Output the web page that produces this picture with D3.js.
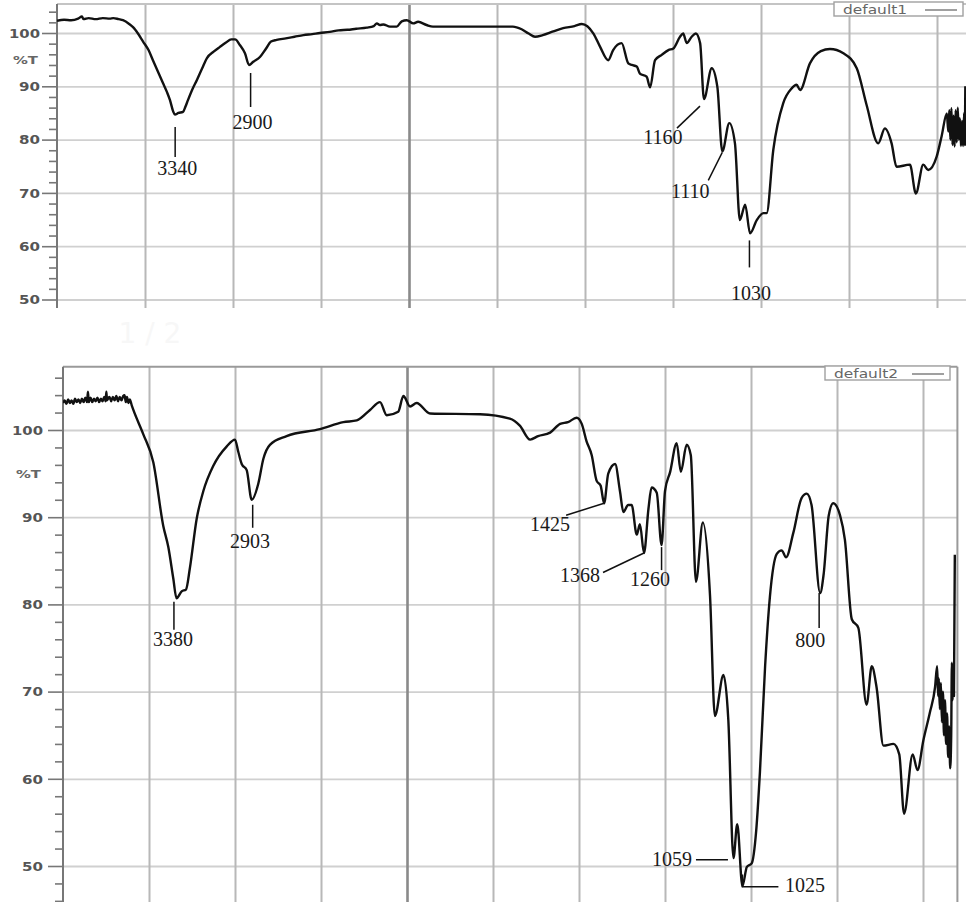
<!DOCTYPE html>
<html>
<head>
<meta charset="utf-8">
<script src="https://cdnjs.cloudflare.com/ajax/libs/d3/7.8.5/d3.min.js"></script>
<style>
  body { margin: 0; background: #fff; }
  svg { display: block; }
</style>
</head>
<body>
<svg id="chart" width="966" height="902"></svg>
<script>
// top spectrum, [wavenumber (cm-1), %T]
var spectrum1 = [
  [4000, 102.3], [3960, 102.5], [3920, 102.4], [3880, 102.7], [3858, 103.1], [3850, 102.6],
  [3820, 102.8], [3780, 102.6], [3740, 102.8], [3700, 102.7], [3680, 102.8], [3650, 102.6],
  [3625, 102.4], [3590, 101.7], [3568, 101.1], [3540, 99.9], [3511, 98.4], [3480, 96.8],
  [3455, 94.9], [3430, 93.0], [3398, 90.6], [3375, 88.9], [3358, 87.4], [3340, 85.3],
  [3330, 84.7], [3310, 85.0], [3284, 85.2], [3270, 86.2], [3256, 87.4], [3230, 89.5],
  [3205, 91.2], [3175, 93.4], [3148, 95.3], [3110, 96.5], [3074, 97.4], [3040, 98.2],
  [3010, 98.8], [2988, 98.8], [2960, 97.7], [2932, 96.2], [2909, 94.0], [2885, 94.6],
  [2847, 95.5], [2812, 97.1], [2784, 98.4], [2752, 98.7], [2700, 99.0], [2650, 99.3],
  [2600, 99.6], [2550, 99.8], [2506, 100.0], [2450, 100.2], [2400, 100.5], [2350, 100.6],
  [2300, 100.8], [2240, 101.0], [2200, 101.3], [2183, 101.8], [2165, 101.5], [2146, 101.6],
  [2108, 101.2], [2070, 101.2], [2041, 102.2], [2013, 102.4], [1988, 101.8], [1974, 102.1],
  [1950, 101.5], [1932, 101.2], [1900, 101.2], [1798, 101.2], [1705, 101.2], [1680, 100.7],
  [1660, 99.9], [1642, 99.3], [1620, 99.6], [1590, 100.3], [1562, 100.9], [1530, 101.3],
  [1509, 101.7], [1476, 99.9], [1457, 97.4], [1434, 94.9], [1420, 96.8], [1396, 98.1],
  [1377, 94.3], [1367, 94.0], [1353, 93.7], [1344, 92.4], [1325, 91.8], [1315, 89.8],
  [1301, 94.9], [1282, 95.9], [1263, 96.8], [1249, 97.1], [1230, 99.3], [1221, 99.9],
  [1211, 98.1], [1197, 99.3], [1185, 99.9], [1173, 98.1], [1162, 87.6], [1140, 93.4],
  [1124, 89.9], [1110, 77.8], [1090, 83.1], [1074, 79.3], [1060, 64.9], [1045, 67.8],
  [1031, 62.4], [1012, 64.9], [993, 66.2], [984, 66.2], [965, 78.1], [937, 86.8],
  [913, 89.6], [899, 90.3], [889, 89.3], [861, 94.3], [830, 96.6], [804, 97.0],
  [766, 96.2], [728, 93.4], [700, 86.5], [667, 79.3], [648, 82.1], [629, 79.3],
  [615, 74.9], [577, 75.3], [560, 69.9], [539, 75.3], [525, 74.3], [501, 76.8],
  [487, 80.6], [472, 84.9], [468, 81.5], [465, 85.5], [462, 80.0], [459, 85.9],
  [456, 79.0], [453, 84.5], [450, 78.7], [447, 85.5], [444, 79.5], [441, 86.0],
  [438, 80.0], [435, 84.0], [432, 78.8], [429, 83.5], [426, 78.8], [423, 85.0],
  [421, 79.0], [419.5, 90.0]
];

// bottom spectrum
var spectrum2 = [
  [4000, 103.1], [3990, 103.4], [3980, 103.0], [3970, 103.5], [3960, 103.1], [3950, 103.4],
  [3940, 103.0], [3930, 103.6], [3920, 103.2], [3910, 103.5], [3900, 103.1], [3890, 103.6],
  [3880, 103.2], [3870, 103.7], [3860, 103.2], [3855, 104.4], [3850, 103.2], [3840, 103.7],
  [3830, 103.2], [3820, 103.6], [3810, 103.3], [3800, 103.7], [3790, 103.2], [3780, 103.6],
  [3770, 103.3], [3760, 103.8], [3752, 103.3], [3748, 104.4], [3744, 103.4], [3730, 103.8],
  [3720, 103.3], [3710, 103.8], [3700, 103.4], [3690, 103.9], [3680, 103.3], [3670, 103.8],
  [3660, 103.4], [3650, 103.9], [3642, 104.0], [3635, 103.2], [3628, 103.8], [3620, 103.1],
  [3612, 103.5], [3600, 102.8],
  [3591, 102.3], [3533, 99.5], [3475, 96.3], [3417, 89.0], [3388, 86.6], [3359, 83.0],
  [3340, 80.7], [3310, 81.5], [3285, 81.7], [3262, 84.2], [3223, 89.8], [3184, 93.0],
  [3126, 95.9], [3049, 98.1], [3000, 98.9], [2981, 97.5], [2961, 96.1], [2932, 95.4],
  [2903, 92.0], [2865, 93.8], [2835, 96.7], [2797, 98.3], [2700, 99.3], [2506, 100.1],
  [2370, 100.9], [2292, 101.1], [2215, 102.3], [2157, 103.2], [2118, 101.7], [2051, 102.1],
  [2021, 103.9], [1991, 102.7], [1972, 103.1], [1933, 101.9], [1788, 101.8], [1701, 101.3],
  [1672, 100.5], [1642, 98.9], [1619, 99.3], [1584, 99.7], [1555, 100.7], [1532, 100.9],
  [1507, 101.4], [1492, 100.7], [1478, 98.7], [1463, 97.1], [1449, 94.2], [1437, 93.6],
  [1427, 91.6], [1415, 95.0], [1395, 96.1], [1381, 93.0], [1371, 90.6], [1357, 91.4],
  [1347, 91.4], [1332, 88.0], [1323, 89.2], [1311, 85.9], [1298, 91.0], [1289, 93.4],
  [1274, 92.8], [1260, 86.8], [1250, 93.0], [1235, 95.2], [1216, 98.5], [1204, 95.2],
  [1187, 98.3], [1175, 97.1], [1160, 82.6], [1140, 89.4], [1119, 80.9], [1105, 67.2],
  [1080, 71.9], [1066, 66.8], [1051, 50.9], [1040, 54.8], [1025, 47.7], [1012, 49.9],
  [998, 50.3], [985, 54.0], [974, 60.8], [959, 72.9], [945, 80.9], [925, 85.8],
  [911, 86.2], [898, 85.4], [877, 88.2], [853, 92.2], [838, 92.7], [824, 91.4],
  [799, 81.3], [789, 83.4], [774, 90.2], [761, 91.6], [741, 90.2], [727, 87.4],
  [707, 78.3], [688, 77.3], [664, 68.5], [649, 72.9], [635, 70.5], [615, 63.8],
  [586, 64.0], [569, 62.8], [555, 56.0], [530, 62.8], [516, 61.0], [499, 64.4],
  [480, 67.6], [465, 70.5], [459, 72.9], [456, 69.5], [454, 71.5], [451, 68.0],
  [448, 71.0], [445, 66.5], [442, 70.0], [439, 65.0], [436, 69.0], [433, 64.0],
  [430, 67.5], [427, 62.5], [424, 66.0], [421, 61.2], [418, 65.0], [416, 73.3],
  [414, 69.0], [412, 72.0], [410, 69.5], [407.5, 85.7]
];

// wavenumber grid lines and %T ticks
var gridWaves = [4000, 3500, 3000, 2500, 2000, 1750, 1500, 1250, 1000, 750, 500];
var yTickValues = [50, 60, 70, 80, 90, 100];
var yUnitLabel = "%T";
var legendNames = ["default1", "default2"];

// peak labels: anchor wavenumber, anchor %T, text
var peakWave1 = [3340, 2900, 1160, 1110, 1030];
var peakT1 = [84.6, 94.0, 87.6, 77.8, 62.4];
var peakText1 = ["3340", "2900", "1160", "1110", "1030"];

var peakWave2 = [3355, 2903, 1427, 1311, 1260, 799, 1051, 1025];
var peakT2 = [80.7, 92.0, 91.6, 85.9, 86.8, 81.3, 50.9, 47.7];
var peakText2 = ["3380", "2903", "1425", "1368", "1260", "800", "1059", "1025"];

// ---- layout ----
var panels = [
  { x0: 57, u: 88, top: 4, bottom: 308, y100: 33, y50: 299.5, labelRight: 40, unitY: 95,
    rightBorder: false, legend: { x: 834, y: 2, w: 129, h: 14 } },
  { x0: 63, u: 86, top: 366.8, bottom: 910, y100: 430, y50: 866, labelRight: 43, unitY: 95,
    rightBorder: true, legend: { x: 825, y: 366, w: 125, h: 14 } }
];

// leader lines ([dx,dy] from anchor) and text offsets, per label
var labelLayout1 = {
  "3340": { pts: [[2, 12], [2, 42]], t: [4, 60, "middle"] },
  "2900": { pts: [[0, 8], [0, 42]], t: [2, 64, "middle"] },
  "1160": { pts: [[-4.7, 7], [-27.7, 29]], t: [-41.7, 45, "middle"] },
  "1110": { pts: [[0, 1], [-14, 29]], t: [-32, 47, "middle"] },
  "1030": { pts: [[-1, 7], [-1, 34]], t: [0.6, 67, "middle"] }
};
var labelLayout2 = {
  "3380": { pts: [[0, 3.4], [0, 31.5]], t: [-1, 48, "middle"] },
  "2903": { pts: [[1, 5], [1, 28]], t: [-1.7, 48, "middle"] },
  "1425": { pts: [[0, 0], [-38, 12]], t: [-54, 28, "middle"] },
  "1368": { pts: [[0, 0], [-41, 19.5]], t: [-64, 29, "middle"] },
  "1260": { pts: [[0, 2], [0, 25]], t: [-11.6, 41, "middle"] },
  "800": { pts: [[-1, 0], [-1, 35]], t: [-10, 54, "middle"] },
  "1059": { pts: [[-5.5, 1.5], [-37.5, 1.5]], t: [-41.5, 8, "end"] },
  "1025": { pts: [[0, -11.5], [0, 0.8], [36, 0.8]], t: [42.6, 6, "start"] }
};

var svg = d3.select("#chart");
svg.append("rect").attr("width", 966).attr("height", 902).attr("fill", "#fff");

function drawPanel(idx, cfg, data, pWave, pT, pText, layout) {
    var right = cfg.x0 + cfg.u * 10.4;
    // 4000-2000 and 2000-400 drawn at different scales, like the instrument plot
    var x = d3.scaleLinear().domain([4000, 2000, 400]).range([cfg.x0, cfg.x0 + cfg.u * 4, right]);
    var y = d3.scaleLinear().domain([50, 100]).range([cfg.y50, cfg.y100]);
    var g = svg.append("g");

    var clipId = "clip" + idx;
    svg.append("clipPath").attr("id", clipId).append("rect")
      .attr("x", cfg.x0).attr("y", cfg.top).attr("width", right - cfg.x0).attr("height", cfg.bottom - cfg.top);

    // horizontal grid
    g.append("g").attr("transform", "translate(" + cfg.x0 + ",0)")
      .call(d3.axisRight(y).tickValues(yTickValues).tickSize(right - cfg.x0).tickFormat(""))
      .call(function (s) {
          s.select(".domain").remove();
          s.selectAll("line").attr("stroke", "#d0d0d0").attr("stroke-width", 1.8);
      });

    // vertical grid
    g.append("g").attr("transform", "translate(0," + cfg.bottom + ")")
      .call(d3.axisBottom(x).tickValues(gridWaves.slice(1)).tickSize(-(cfg.bottom - cfg.top)).tickFormat(""))
      .call(function (s) {
          s.select(".domain").remove();
          s.selectAll("line")
            .attr("stroke", function (d) { return d === 2000 ? "#8a8a8a" : "#b8b8b8"; })
            .attr("stroke-width", function (d) { return d === 2000 ? 2.6 : 2; });
      });

    // frame
    g.append("line").attr("x1", cfg.x0).attr("x2", right).attr("y1", cfg.top).attr("y2", cfg.top)
      .attr("stroke", idx === 0 ? "#c4c4c4" : "#9a9a9a").attr("stroke-width", 2);
    if (cfg.rightBorder) {
        g.append("line").attr("x1", right).attr("x2", right).attr("y1", cfg.top).attr("y2", cfg.bottom)
          .attr("stroke", "#9a9a9a").attr("stroke-width", 2);
    }

    // left axis: minor ticks, major ticks with labels
    var minor = d3.range(42, 108, 2).filter(function (v) {
        return y(v) > cfg.top + 2 && y(v) < cfg.bottom && v % 10 !== 0;
    });
    g.append("g").attr("transform", "translate(" + cfg.x0 + ",0)")
      .call(d3.axisLeft(y).tickValues(minor).tickSize(8).tickFormat(""))
      .call(function (s) {
          s.select(".domain").remove();
          s.selectAll("line").attr("stroke", "#777").attr("stroke-width", 1.6);
      });
    g.append("g").attr("transform", "translate(" + cfg.x0 + ",0)")
      .call(d3.axisLeft(y).tickValues(yTickValues).tickSize(15).tickPadding(cfg.x0 - 15 - cfg.labelRight))
      .call(function (s) {
          s.select(".domain").remove();
          s.selectAll("line").attr("stroke", "#777").attr("stroke-width", 1.6);
          s.selectAll("text")
            .attr("font-family", "DejaVu Sans, sans-serif").attr("font-size", 12).attr("font-weight", "bold")
            .attr("fill", "#555").attr("dy", "0.36em")
            .attr("textLength", function (d) { return d === 100 ? 31 : 21; })
            .attr("lengthAdjust", "spacingAndGlyphs");
      });
    g.append("text").attr("x", cfg.labelRight - 2).attr("y", y(cfg.unitY)).attr("dy", "0.36em")
      .attr("text-anchor", "end").attr("font-family", "DejaVu Sans, sans-serif").attr("font-size", 11)
      .attr("font-weight", "bold").attr("fill", "#666")
      .attr("textLength", 25).attr("lengthAdjust", "spacingAndGlyphs").text(yUnitLabel);
    g.append("line").attr("x1", cfg.x0).attr("x2", cfg.x0).attr("y1", cfg.top).attr("y2", cfg.bottom)
      .attr("stroke", "#777").attr("stroke-width", 2);

    // legend box
    var lg = cfg.legend;
    g.append("rect").attr("x", lg.x).attr("y", lg.y).attr("width", lg.w).attr("height", lg.h)
      .attr("fill", "#fff").attr("stroke", "#a0a0a0").attr("stroke-width", 1.4);
    g.append("text").attr("x", lg.x + 9).attr("y", lg.y + lg.h - 2.5)
      .attr("font-family", "DejaVu Sans, sans-serif").attr("font-size", 12).attr("fill", "#666")
      .attr("textLength", 64).attr("lengthAdjust", "spacingAndGlyphs").text(legendNames[idx]);
    g.append("line").attr("x1", lg.x + lg.w - 38).attr("x2", lg.x + lg.w - 6)
      .attr("y1", lg.y + lg.h / 2 + 1).attr("y2", lg.y + lg.h / 2 + 1)
      .attr("stroke", "#777").attr("stroke-width", 1.4);

    // spectrum
    var line = d3.line()
      .x(function (d) { return x(d[0]); })
      .y(function (d) { return y(d[1]); })
      .curve(d3.curveMonotoneX);
    g.append("path").datum(data).attr("clip-path", "url(#" + clipId + ")")
      .attr("d", line).attr("fill", "none").attr("stroke", "#111")
      .attr("stroke-width", 2.4).attr("stroke-linejoin", "round");

    // peak labels
    for (var i = 0; i < pText.length; i++) {
        var ax = x(pWave[i]), ay = y(pT[i]);
        var lay = layout[pText[i]];
        g.append("polyline")
          .attr("points", lay.pts.map(function (p) { return (ax + p[0]) + "," + (ay + p[1]); }).join(" "))
          .attr("fill", "none").attr("stroke", "#111").attr("stroke-width", 1.5);
        g.append("text").attr("x", ax + lay.t[0]).attr("y", ay + lay.t[1])
          .attr("text-anchor", lay.t[2])
          .attr("font-family", "Liberation Serif, Times New Roman, serif").attr("font-size", 20)
          .attr("fill", "#1a1a1a").text(pText[i]);
    }
}

drawPanel(0, panels[0], spectrum1, peakWave1, peakT1, peakText1, labelLayout1);
drawPanel(1, panels[1], spectrum2, peakWave2, peakT2, peakText2, labelLayout2);

// faint page counter left between the two scans
svg.append("text").attr("x", 150).attr("y", 343).attr("text-anchor", "middle")
  .attr("font-family", "DejaVu Sans, sans-serif").attr("font-size", 28).attr("fill", "#f7f7f7").text("1 / 2");
</script>
</body>
</html>
